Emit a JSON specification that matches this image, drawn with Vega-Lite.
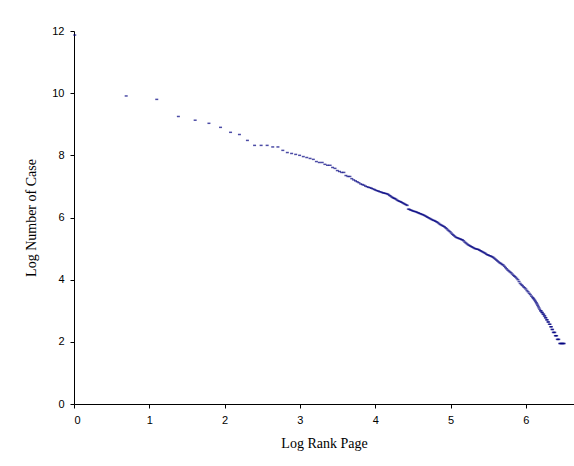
{
  "$schema": "https://vega.github.io/schema/vega-lite/v6.json",
  "width": 500,
  "height": 373,
  "autosize": {"type": "none"},
  "padding": {"left": 74, "top": 31, "right": 0, "bottom": 62},
  "background": "white",
  "config": {"view": {"stroke": null}},
  "data": {"values": [
    {"logRank":0.01,"logCases":11.87},{"logRank":0.693,"logCases":9.91},{"logRank":1.099,"logCases":9.8},{"logRank":1.386,"logCases":9.25},
    {"logRank":1.609,"logCases":9.13},{"logRank":1.792,"logCases":9.03},{"logRank":1.946,"logCases":8.9},{"logRank":2.079,"logCases":8.74},
    {"logRank":2.197,"logCases":8.67},{"logRank":2.303,"logCases":8.48},{"logRank":2.398,"logCases":8.32},{"logRank":2.485,"logCases":8.32},
    {"logRank":2.565,"logCases":8.32},{"logRank":2.639,"logCases":8.27},{"logRank":2.708,"logCases":8.27},{"logRank":2.773,"logCases":8.16},
    {"logRank":2.833,"logCases":8.09},{"logRank":2.89,"logCases":8.06},{"logRank":2.944,"logCases":8.03},{"logRank":2.996,"logCases":8.0},
    {"logRank":3.045,"logCases":7.96},{"logRank":3.091,"logCases":7.93},{"logRank":3.135,"logCases":7.9},{"logRank":3.178,"logCases":7.87},
    {"logRank":3.219,"logCases":7.8},{"logRank":3.258,"logCases":7.77},{"logRank":3.296,"logCases":7.77},{"logRank":3.332,"logCases":7.71},
    {"logRank":3.367,"logCases":7.68},{"logRank":3.401,"logCases":7.68},{"logRank":3.434,"logCases":7.61},{"logRank":3.466,"logCases":7.58},
    {"logRank":3.497,"logCases":7.51},{"logRank":3.526,"logCases":7.48},{"logRank":3.555,"logCases":7.45},{"logRank":3.584,"logCases":7.45},
    {"logRank":3.611,"logCases":7.35},{"logRank":3.638,"logCases":7.32},{"logRank":3.664,"logCases":7.32},{"logRank":3.689,"logCases":7.25},
    {"logRank":3.714,"logCases":7.21},{"logRank":3.738,"logCases":7.18},{"logRank":3.761,"logCases":7.15},{"logRank":3.784,"logCases":7.12},
    {"logRank":3.807,"logCases":7.08},{"logRank":3.829,"logCases":7.06},{"logRank":3.85,"logCases":7.04},{"logRank":3.871,"logCases":7.01},
    {"logRank":3.892,"logCases":6.99},{"logRank":3.912,"logCases":6.97},{"logRank":3.932,"logCases":6.96},{"logRank":3.951,"logCases":6.94},
    {"logRank":3.97,"logCases":6.92},{"logRank":3.989,"logCases":6.9},{"logRank":4.007,"logCases":6.88},{"logRank":4.025,"logCases":6.86},
    {"logRank":4.043,"logCases":6.85},{"logRank":4.06,"logCases":6.83},{"logRank":4.078,"logCases":6.82},{"logRank":4.094,"logCases":6.8},
    {"logRank":4.111,"logCases":6.79},{"logRank":4.127,"logCases":6.78},{"logRank":4.143,"logCases":6.77},{"logRank":4.159,"logCases":6.76},
    {"logRank":4.174,"logCases":6.74},{"logRank":4.19,"logCases":6.71},{"logRank":4.205,"logCases":6.69},{"logRank":4.22,"logCases":6.66},
    {"logRank":4.234,"logCases":6.64},{"logRank":4.248,"logCases":6.62},
    {"logRank":4.26,"logCases":6.61},{"logRank":4.275,"logCases":6.59},{"logRank":4.29,"logCases":6.56},{"logRank":4.305,"logCases":6.54},
    {"logRank":4.32,"logCases":6.52},{"logRank":4.335,"logCases":6.51},{"logRank":4.35,"logCases":6.49},{"logRank":4.365,"logCases":6.47},
    {"logRank":4.38,"logCases":6.45},{"logRank":4.395,"logCases":6.43},{"logRank":4.41,"logCases":6.41},{"logRank":4.425,"logCases":6.39},
    {"logRank":4.44,"logCases":6.27},{"logRank":4.455,"logCases":6.26},{"logRank":4.47,"logCases":6.24},{"logRank":4.485,"logCases":6.23},
    {"logRank":4.5,"logCases":6.21},{"logRank":4.515,"logCases":6.2},{"logRank":4.53,"logCases":6.19},{"logRank":4.545,"logCases":6.18},
    {"logRank":4.56,"logCases":6.16},{"logRank":4.575,"logCases":6.15},{"logRank":4.59,"logCases":6.13},{"logRank":4.605,"logCases":6.12},
    {"logRank":4.62,"logCases":6.1},{"logRank":4.635,"logCases":6.09},{"logRank":4.65,"logCases":6.07},{"logRank":4.665,"logCases":6.05},
    {"logRank":4.68,"logCases":6.03},{"logRank":4.695,"logCases":6.01},{"logRank":4.71,"logCases":5.99},{"logRank":4.725,"logCases":5.97},
    {"logRank":4.74,"logCases":5.95},{"logRank":4.755,"logCases":5.93},{"logRank":4.77,"logCases":5.91},{"logRank":4.785,"logCases":5.9},
    {"logRank":4.8,"logCases":5.88},{"logRank":4.815,"logCases":5.86},{"logRank":4.83,"logCases":5.84},{"logRank":4.845,"logCases":5.81},
    {"logRank":4.86,"logCases":5.78},{"logRank":4.875,"logCases":5.76},{"logRank":4.89,"logCases":5.74},{"logRank":4.905,"logCases":5.72},
    {"logRank":4.92,"logCases":5.7},{"logRank":4.935,"logCases":5.67},{"logRank":4.95,"logCases":5.64},{"logRank":4.965,"logCases":5.6},
    {"logRank":4.98,"logCases":5.57},{"logRank":4.995,"logCases":5.54},{"logRank":5.01,"logCases":5.5},{"logRank":5.025,"logCases":5.46},
    {"logRank":5.04,"logCases":5.43},{"logRank":5.055,"logCases":5.4},{"logRank":5.07,"logCases":5.37},{"logRank":5.085,"logCases":5.35},
    {"logRank":5.1,"logCases":5.34},{"logRank":5.115,"logCases":5.32},{"logRank":5.13,"logCases":5.31},{"logRank":5.145,"logCases":5.29},
    {"logRank":5.16,"logCases":5.28},{"logRank":5.175,"logCases":5.25},{"logRank":5.19,"logCases":5.21},{"logRank":5.205,"logCases":5.18},
    {"logRank":5.22,"logCases":5.15},{"logRank":5.235,"logCases":5.12},{"logRank":5.25,"logCases":5.1},{"logRank":5.265,"logCases":5.08},
    {"logRank":5.28,"logCases":5.06},{"logRank":5.295,"logCases":5.04},{"logRank":5.31,"logCases":5.02},{"logRank":5.325,"logCases":5.0},
    {"logRank":5.34,"logCases":4.99},{"logRank":5.355,"logCases":4.98},{"logRank":5.37,"logCases":4.97},{"logRank":5.385,"logCases":4.95},
    {"logRank":5.4,"logCases":4.93},{"logRank":5.415,"logCases":4.91},{"logRank":5.43,"logCases":4.89},{"logRank":5.445,"logCases":4.87},
    {"logRank":5.46,"logCases":4.85},{"logRank":5.475,"logCases":4.82},{"logRank":5.49,"logCases":4.8},{"logRank":5.505,"logCases":4.79},
    {"logRank":5.52,"logCases":4.77},{"logRank":5.535,"logCases":4.76},{"logRank":5.55,"logCases":4.74},{"logRank":5.565,"logCases":4.72},
    {"logRank":5.58,"logCases":4.69},{"logRank":5.595,"logCases":4.66},{"logRank":5.61,"logCases":4.63},{"logRank":5.625,"logCases":4.6},
    {"logRank":5.64,"logCases":4.57},{"logRank":5.655,"logCases":4.54},{"logRank":5.67,"logCases":4.52},{"logRank":5.685,"logCases":4.49},
    {"logRank":5.7,"logCases":4.47},{"logRank":5.715,"logCases":4.43},{"logRank":5.73,"logCases":4.39},{"logRank":5.745,"logCases":4.35},
    {"logRank":5.76,"logCases":4.31},{"logRank":5.775,"logCases":4.28},{"logRank":5.79,"logCases":4.25},{"logRank":5.805,"logCases":4.22},
    {"logRank":5.82,"logCases":4.18},{"logRank":5.835,"logCases":4.14},{"logRank":5.85,"logCases":4.11},{"logRank":5.865,"logCases":4.08},
    {"logRank":5.88,"logCases":4.04},{"logRank":5.895,"logCases":4.0},{"logRank":5.91,"logCases":3.94},{"logRank":5.925,"logCases":3.88},
    {"logRank":5.94,"logCases":3.84},{"logRank":5.955,"logCases":3.81},{"logRank":5.97,"logCases":3.77},{"logRank":5.985,"logCases":3.74},
    {"logRank":6.0,"logCases":3.7},{"logRank":6.015,"logCases":3.65},{"logRank":6.03,"logCases":3.61},{"logRank":6.045,"logCases":3.56},
    {"logRank":6.06,"logCases":3.52},{"logRank":6.075,"logCases":3.47},{"logRank":6.09,"logCases":3.43},
    {"logRank":6.1,"logCases":3.401},{"logRank":6.11,"logCases":3.367},{"logRank":6.12,"logCases":3.332},{"logRank":6.13,"logCases":3.296},
    {"logRank":6.14,"logCases":3.258},{"logRank":6.148,"logCases":3.219},{"logRank":6.157,"logCases":3.178},{"logRank":6.166,"logCases":3.135},
    {"logRank":6.175,"logCases":3.091},{"logRank":6.185,"logCases":3.045},
    {"logRank":6.195,"logCases":2.996},{"logRank":6.205,"logCases":2.996},
    {"logRank":6.212,"logCases":2.944},{"logRank":6.22,"logCases":2.944},
    {"logRank":6.228,"logCases":2.89},{"logRank":6.238,"logCases":2.89},
    {"logRank":6.245,"logCases":2.833},{"logRank":6.253,"logCases":2.833},
    {"logRank":6.26,"logCases":2.773},{"logRank":6.268,"logCases":2.773},
    {"logRank":6.276,"logCases":2.708},{"logRank":6.285,"logCases":2.708},
    {"logRank":6.293,"logCases":2.639},{"logRank":6.302,"logCases":2.639},
    {"logRank":6.312,"logCases":2.565},{"logRank":6.322,"logCases":2.565},
    {"logRank":6.33,"logCases":2.485},{"logRank":6.34,"logCases":2.485},
    {"logRank":6.347,"logCases":2.398},{"logRank":6.356,"logCases":2.398},
    {"logRank":6.365,"logCases":2.303},{"logRank":6.375,"logCases":2.303},{"logRank":6.385,"logCases":2.303},
    {"logRank":6.392,"logCases":2.197},{"logRank":6.4,"logCases":2.197},{"logRank":6.41,"logCases":2.197},
    {"logRank":6.418,"logCases":2.079},{"logRank":6.428,"logCases":2.079},{"logRank":6.438,"logCases":2.079},
    {"logRank":6.45,"logCases":1.946},{"logRank":6.46,"logCases":1.946},{"logRank":6.47,"logCases":1.946},{"logRank":6.48,"logCases":1.946},
    {"logRank":6.49,"logCases":1.946},{"logRank":6.5,"logCases":1.946},{"logRank":6.51,"logCases":1.946}
  ]},
  "mark": {"type": "tick", "orient": "horizontal", "size": 3, "thickness": 1.5, "color": "#000080", "clip": false},
  "encoding": {
    "x": {
      "field": "logRank", "type": "quantitative",
      "scale": {"domain": [0, 6.64], "nice": false, "zero": true},
      "axis": {
        "title": "Log Rank Page", "values": [0, 1, 2, 3, 4, 5, 6], "grid": false,
        "domainColor": "#000000", "tickColor": "#000000", "tickSize": 4,
        "labelFont": "Liberation Sans", "labelFontSize": 11, "labelColor": "#000000", "labelPadding": 6,
        "titleFont": "Liberation Serif", "titleFontSize": 14, "titleFontWeight": "normal", "titleColor": "#000000", "titlePadding": 11
      }
    },
    "y": {
      "field": "logCases", "type": "quantitative",
      "scale": {"domain": [0, 12], "nice": false},
      "axis": {
        "title": "Log Number of Case", "values": [0, 2, 4, 6, 8, 10, 12], "grid": false,
        "domainColor": "#000000", "tickColor": "#000000", "tickSize": 4,
        "labelFont": "Liberation Sans", "labelFontSize": 11, "labelColor": "#000000", "labelPadding": 6,
        "titleFont": "Liberation Serif", "titleFontSize": 14, "titleFontWeight": "normal", "titleColor": "#000000", "titlePadding": 13
      }
    }
  }
}
